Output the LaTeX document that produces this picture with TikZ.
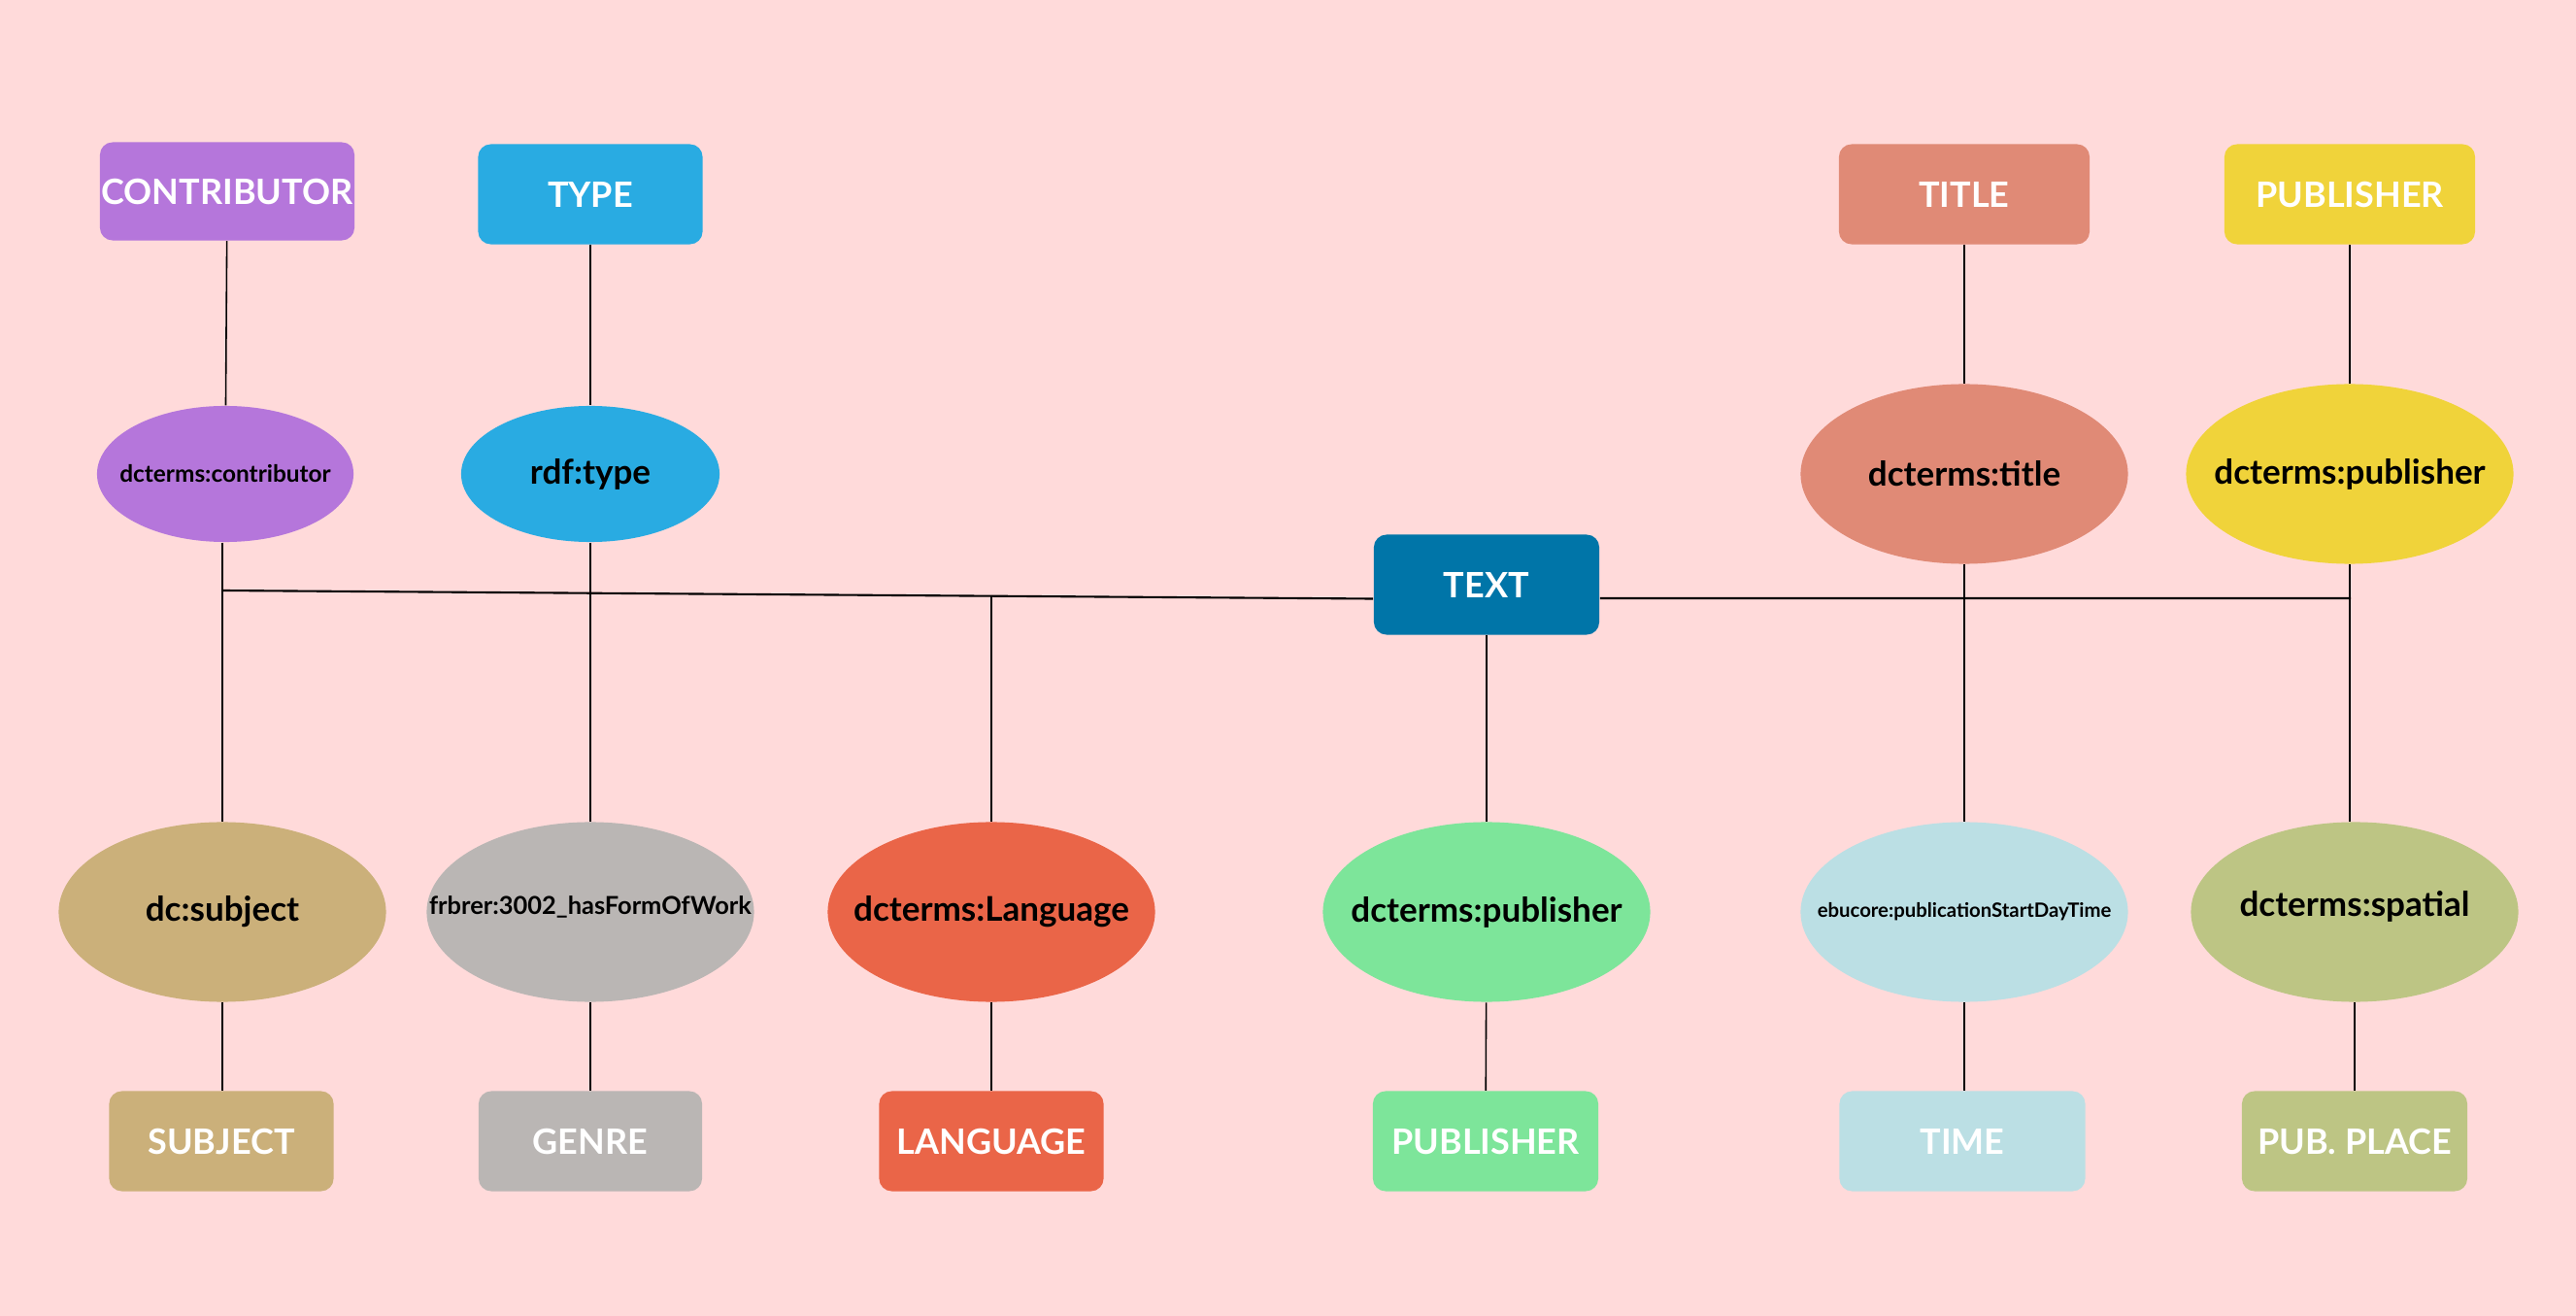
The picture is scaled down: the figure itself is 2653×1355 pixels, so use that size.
\documentclass[tikz,border=0pt]{standalone}
\usepackage{fontspec}
\setmainfont{Lato}
\usetikzlibrary{shapes.geometric}

% colours
\definecolor{bgpink}{HTML}{FFDADA}
\definecolor{contribcol}{HTML}{B576DB}
\definecolor{typecol}{HTML}{29ABE2}
\definecolor{titlecol}{HTML}{E08A76}
\definecolor{pubcol}{HTML}{F0D33A}
\definecolor{textcol}{HTML}{0075A8}
\definecolor{subjcol}{HTML}{CBB07A}
\definecolor{genrecol}{HTML}{BAB6B4}
\definecolor{langcol}{HTML}{EA6548}
\definecolor{pubgreen}{HTML}{7DE59A}
\definecolor{timecol}{HTML}{BBDFE4}
\definecolor{placecol}{HTML}{BDC584}

\tikzset{
  classbox/.style={rectangle, rounded corners=0.13cm, inner sep=0pt, minimum height=1.03cm,
    text=white, font=\fontsize{10.24}{12}\selectfont\bfseries},
  propell/.style={ellipse, inner sep=0pt},
  bigprop/.style={propell, minimum width=3.37cm, minimum height=1.85cm},
  proplabel/.style={font=\fontsize{#1}{12}\selectfont\bfseries},
  link/.style={black, line width=0.45pt}
}

\begin{document}
\begin{tikzpicture}[x=0.01cm, y=-0.01cm]
    % Sfondo
    \fill[bgpink] (0,0) rectangle (2653,1355);

    % Classi in alto
    \node[classbox, fill=contribcol, minimum width=2.62cm, minimum height=1.01cm] (contributor) at (234,197) {CONTRIBUTOR};
    \node[classbox, fill=typecol, minimum width=2.31cm] (type) at (608,200) {\raisebox{-0.05cm}{TYPE}};
    \node[classbox, fill=titlecol, minimum width=2.58cm] (title) at (2023,200) {TITLE};
    \node[classbox, fill=pubcol, minimum width=2.58cm] (publisher) at (2420,200) {PUBLISHER};

    % Proprieta in alto
    \node[propell, fill=contribcol, minimum width=2.64cm, minimum height=1.40cm,
      label={[proplabel=6.94]center:{dcterms:contributor}}] (contribE) at (232,488) {};
    \node[propell, fill=typecol, minimum width=2.66cm, minimum height=1.40cm,
      label={[proplabel=9.96]center:{rdf:type}}] (typeE) at (608,488) {};
    \node[bigprop, fill=titlecol, label={[proplabel=9.96]center:{dcterms:title}}] (titleE) at (2023,488) {};
    \node[bigprop, fill=pubcol, label={[proplabel=9.96]center:{dcterms:publisher}}] (publisherE) at (2420,488) {};

    % Nodo centrale
    \node[classbox, fill=textcol, minimum width=2.32cm] (text) at (1531,602) {TEXT};

    % Proprieta in basso
    \node[bigprop, fill=subjcol, label={[proplabel=9.96]center:{dc:subject}}] (subjectE) at (229,939) {};
    \node[bigprop, fill=genrecol, label={[proplabel=7.23, yshift=0.05cm]center:{frbrer:3002\_hasFormOfWork}}] (genreE) at (608,939) {};
    \node[bigprop, fill=langcol, label={[proplabel=9.96]center:{dcterms:Language}}] (languageE) at (1021,939) {};
    \node[bigprop, fill=pubgreen, label={[proplabel=9.96]center:{dcterms:publisher}}] (publisherBE) at (1531,939) {};
    \node[bigprop, fill=timecol, label={[proplabel=5.78]center:{ebucore:publicationStartDayTime}}] (timeE) at (2023,939) {};
    \node[bigprop, fill=placecol, label={[proplabel=9.96, yshift=0.06cm]center:{dcterms:spatial}}] (spatialE) at (2425,939) {};

    % Classi in basso
    \node[classbox, fill=subjcol, minimum width=2.31cm] (subject) at (228,1175) {SUBJECT};
    \node[classbox, fill=genrecol, minimum width=2.30cm] (genre) at (608,1175) {GENRE};
    \node[classbox, fill=langcol, minimum width=2.31cm] (language) at (1021,1175) {LANGUAGE};
    \node[classbox, fill=pubgreen, minimum width=2.32cm] (publisherB) at (1530,1175) {PUBLISHER};
    \node[classbox, fill=timecol, minimum width=2.53cm] (time) at (2021,1175) {TIME};
    \node[classbox, fill=placecol, minimum width=2.32cm] (pubplace) at (2425,1175) {PUB. PLACE};

    % Punti di giunzione
    \coordinate (jL) at (229,608);
    \coordinate (jLang) at (1021,613);
    \coordinate (jR) at (2421,616);

    % Collegamenti verticali
    \draw[link] (contributor) -- (contribE);
    \draw[link] (type) -- (typeE);
    \draw[link] (title) -- (titleE);
    \draw[link] (publisher) -- (publisherE);
    \draw[link] (contribE.south -| subjectE.north) -- (subjectE);
    \draw[link] (typeE) -- (genreE);
    \draw[link] (titleE) -- (timeE);
    \draw[link] (publisherE) -- (publisherE.south |- spatialE.north);
    \draw[link] (jLang) -- (languageE);
    \draw[link] (text) -- (publisherBE);
    \draw[link] (subjectE) -- (subjectE.south |- subject.north);
    \draw[link] (genreE) -- (genre);
    \draw[link] (languageE) -- (language);
    \draw[link] (publisherBE) -- (publisherB);
    \draw[link] (timeE) -- (timeE.south |- time.north);
    \draw[link] (spatialE) -- (pubplace);

    % Linea orizzontale
    \draw[link, line width=0.6pt] (jL) -- ([yshift=-0.145cm]text.west);
    \draw[link, line width=0.6pt] ([yshift=-0.14cm]text.east) -- (jR);
\end{tikzpicture}
\end{document}
